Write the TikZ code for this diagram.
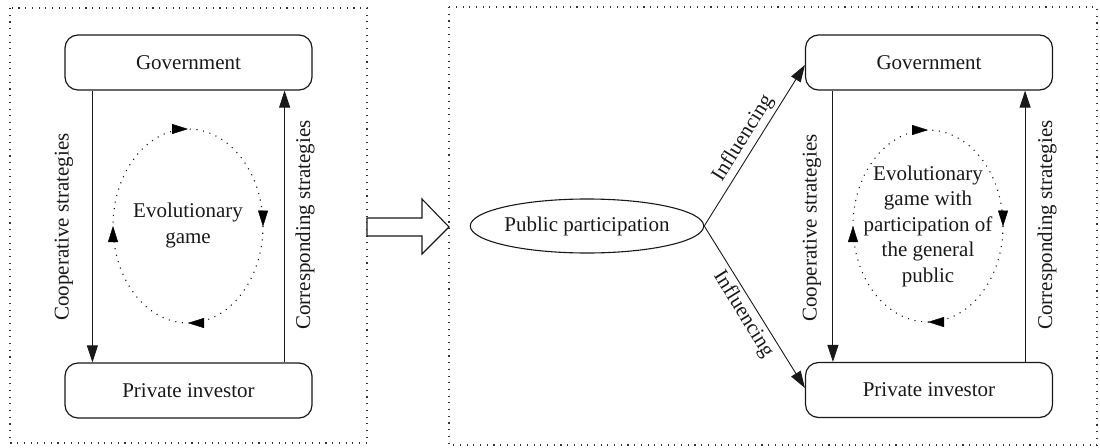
\documentclass[tikz,border=0pt]{standalone}
\usepackage{fontspec}
\setmainfont{Liberation Serif}
\usetikzlibrary{arrows.meta,calc,decorations.markings,shapes.geometric}
\begin{document}
\begin{tikzpicture}[x=1pt,y=-1pt,
  every node/.style={font=\fontsize{21}{25.5}\selectfont, text=black!90},
  frame/.style={draw=black!80, line width=1.1pt, dash pattern=on 1.1pt off 5.6pt},
  actor/.style={draw=black!90, rounded corners=13pt, line width=1.2pt, minimum width=247pt, minimum height=55pt, inner sep=0pt},
  arr/.style={draw=black!90, -{Triangle[length=17pt,width=11pt]}, line width=0.9pt},
  loopline/.style={draw=black!90, line width=1.1pt, dash pattern=on 1.1pt off 5.6pt},
  looptips/.style={decoration={markings,
     mark=at position 0.001 with {\arrow{Triangle[length=16pt,width=10pt]}},
     mark=at position 0.25 with {\arrow{Triangle[length=16pt,width=10pt]}},
     mark=at position 0.5 with {\arrow{Triangle[length=16pt,width=10pt]}},
     mark=at position 0.75 with {\arrow{Triangle[length=16pt,width=10pt]}}}, decorate},
  pubnode/.style={ellipse, draw=black!90, line width=1.1pt, minimum width=221pt, minimum height=54pt, inner sep=0pt},
  hollow/.style={draw=black!90, line width=1.1pt, fill=white}
]
\useasboundingbox (0,0) rectangle (1100,447);

% dotted frames
\draw[frame] (10,8) rectangle (367,443);
\draw[frame] (449,7) rectangle (1097,445);

% ---- left panel ----
\node[actor] (gov1) at (188.5,62.5) {Government};
\node[actor] (inv1) at (188.5,390.5) {Private investor};
\draw[arr] ($(gov1.south west)+(28,0)$) -- ($(inv1.north west)+(28,0)$);
\draw[arr] ($(inv1.north east)+(-28,0)$) -- ($(gov1.south east)+(-28,0)$);
\node[rotate=90] (coop1) at (64,227) {Cooperative strategies};
\node[rotate=90] (corr1) at (305,225) {Corresponding strategies};
\draw[loopline] (188,226) ellipse [x radius=75, y radius=97];
\path[looptips, fill=black!90] (188,226) ellipse [x radius=75, y radius=97];
\node[align=center] (game1) at (188,225.5) {Evolutionary\\game};

% ---- hollow arrow ----
\draw[hollow] (367,218) -- (422,218) -- (422,199) -- (449,227) -- (422,254) -- (422,236) -- (367,236) -- cycle;

% ---- right panel ----
\node[pubnode] (pub) at (587,226) {Public participation};
\node[actor] (gov2) at (929,62.5) {Government};
\node[actor] (inv2) at (929,390) {Private investor};
\draw[arr] (pub.east) -- node[midway, sloped, above] (inf1) {Influencing} ($(gov2.west)+(0,2.5)$);
\draw[arr] (pub.east) -- node[midway, sloped, below] (inf2) {Influencing} ($(inv2.west)+(0,-2)$);
\draw[arr] ($(gov2.south west)+(28,0)$) -- ($(inv2.north west)+(28,0)$);
\draw[arr] ($(inv2.north east)+(-28,0)$) -- ($(gov2.south east)+(-28,0)$);
\node[rotate=90] (coop2) at (812,228) {Cooperative strategies};
\node[rotate=90] (corr2) at (1047,225) {Corresponding strategies};
\draw[loopline] (928,226) ellipse [x radius=75, y radius=96];
\path[looptips, fill=black!90] (928,226) ellipse [x radius=75, y radius=96];
\node[align=center] (game2) at (928,226) {Evolutionary\\game with\\participation of\\the general\\public};
\end{tikzpicture}
\end{document}
